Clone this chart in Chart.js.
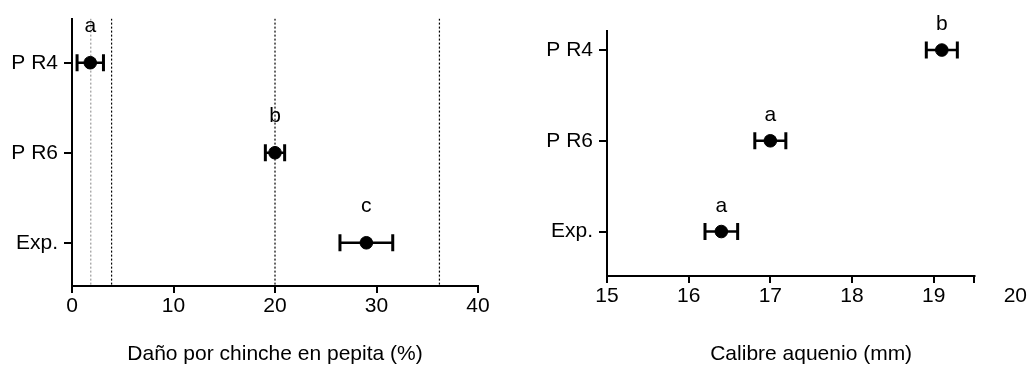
<!DOCTYPE html>
<html>
<head>
<meta charset="utf-8">
<script src="https://cdn.jsdelivr.net/npm/chart.js@4.4.0/dist/chart.umd.min.js"></script>
<style>
  body { margin: 0; background: #fff; }
  #wrap { position: relative; width: 1028px; height: 367px; }
  canvas { position: absolute; top: 0; }
</style>
</head>
<body>
<div id="wrap">
  <canvas id="dano" width="514" height="367" style="left:0"></canvas>
  <canvas id="calibre" width="514" height="367" style="left:514px"></canvas>
</div>
<script>
// categories, top to bottom
const categories = ['P R4', 'P R6', 'Exp.'];

// left panel - damage by bug on seed (%)
const danoMean = [1.8, 20.0, 29.0];
const danoErr = [1.3, 0.95, 2.6];
const danoLetters = ['a', 'b', 'c'];
const danoRefBlack = [3.9, 20.0, 36.2];
const danoRefGray = [1.85];
const danoTicks = [0, 10, 20, 30, 40];

// right panel - achene size (mm)
const calMean = [19.1, 17.0, 16.4];
const calErr = [0.19, 0.19, 0.2];
const calLetters = ['b', 'a', 'a'];
const calTicks = [15, 16, 17, 18, 19, 19.5, 20];

Chart.defaults.font.family = '"Liberation Sans", Arial, sans-serif';
Chart.defaults.font.size = 21;
Chart.defaults.color = '#000';

function meanSet(mean) {
  return {
    data: mean.map((m, i) => ({ x: m, y: i })),
    pointRadius: 6.3, pointHoverRadius: 6.3,
    pointBackgroundColor: '#000', pointBorderColor: '#000',
    order: 1
  };
}

// one small line per row, caps drawn as rotated 'line' points
function errorSets(mean, err) {
  return mean.map((m, i) => ({
    data: [{ x: m - err[i], y: i }, { x: m + err[i], y: i }],
    showLine: true, borderColor: '#000', borderWidth: 2.5,
    pointStyle: 'line', pointRotation: 90, pointRadius: 8.5, pointHoverRadius: 8.5,
    pointBorderWidth: 3, pointBorderColor: '#000',
    order: 2
  }));
}

function refSets(vals, color, yMin, yMax) {
  return vals.map(v => ({
    data: [{ x: v, y: yMin }, { x: v, y: yMax }],
    showLine: true, borderColor: color, borderWidth: 1.2, borderDash: [2, 2],
    pointRadius: 0, pointHoverRadius: 0,
    order: 3
  }));
}

function lettersPlugin(letters, mean, lift) {
  return {
    id: 'letters',
    afterDatasetsDraw(chart) {
      const { ctx, scales: { x, y } } = chart;
      ctx.save();
      ctx.font = '21px "Liberation Sans", Arial, sans-serif';
      ctx.fillStyle = '#000';
      ctx.textAlign = 'center';
      ctx.textBaseline = 'alphabetic';
      letters.forEach((l, i) => {
        ctx.fillText(l, x.getPixelForValue(mean[i]), y.getPixelForValue(i) - lift);
      });
      ctx.restore();
    }
  };
}

function makeOptions(c) {
  return {
    responsive: false,
    animation: false,
    events: [],
    layout: { padding: { top: c.top, right: c.right, left: 0, bottom: 0 } },
    plugins: { legend: { display: false }, tooltip: { enabled: false } },
    scales: {
      x: {
        type: 'linear', min: c.xMin, max: c.xMax,
        afterBuildTicks: s => { s.ticks = c.xTicks.map(v => ({ value: v })); },
        afterFit: s => { s.height = c.xHeight; },
        ticks: {
          padding: 1, autoSkip: false, maxRotation: 0, color: '#000',
          callback: v => (v === 19.5 ? '' : v)
        },
        grid: {
          drawOnChartArea: false, drawTicks: true, tickLength: 7, lineWidth: 2,
          color: '#000',
          tickColor: ctx => (ctx.tick && ctx.tick.value === 20 && c.hide20 ? 'rgba(0,0,0,0)' : '#000')
        },
        border: { display: !c.hide20, color: '#000', width: 2 },
        title: { display: true, text: c.title, color: '#000', font: { size: 21 }, padding: 0 }
      },
      y: {
        type: 'linear', reverse: true, min: c.yMin, max: c.yMax,
        afterBuildTicks: s => { s.ticks = categories.map((_, i) => ({ value: i })); },
        afterFit: s => { s.width = c.yWidth; },
        ticks: { padding: 6, color: '#000', callback: v => categories[v] },
        grid: { drawOnChartArea: false, drawTicks: true, tickLength: 8, lineWidth: 2, color: '#000' },
        border: { display: true, color: '#000', width: 2 }
      }
    }
  };
}

// left chart
const danoY = [-0.49, 2.48];
new Chart(document.getElementById('dano'), {
  type: 'scatter',
  data: {
    datasets: [
      meanSet(danoMean),
      ...errorSets(danoMean, danoErr),
      ...refSets(danoRefBlack, '#000', danoY[0], danoY[1]),
      ...refSets(danoRefGray, '#9a9a9a', danoY[0], danoY[1])
    ]
  },
  options: makeOptions({
    top: 15, right: 36, xHeight: 81, yWidth: 72,
    xMin: 0, xMax: 40, xTicks: danoTicks, yMin: danoY[0], yMax: danoY[1],
    title: 'Daño por chinche en pepita (%)', hide20: false
  }),
  plugins: [lettersPlugin(danoLetters, danoMean, 31)]
});

// right chart; axis line stops at 19.5 while the "20" label stays
const calY = [-0.21, 2.49];
const axisLine = {
  id: 'axisLine',
  afterDraw(chart) {
    const { ctx, chartArea, scales: { x } } = chart;
    ctx.save();
    ctx.strokeStyle = '#000';
    ctx.lineWidth = 2;
    ctx.beginPath();
    ctx.moveTo(x.getPixelForValue(15) - 1, chartArea.bottom);
    ctx.lineTo(x.getPixelForValue(19.5) + 1, chartArea.bottom);
    ctx.stroke();
    ctx.restore();
  }
};
new Chart(document.getElementById('calibre'), {
  type: 'scatter',
  data: {
    datasets: [
      meanSet(calMean),
      ...errorSets(calMean, calErr)
    ]
  },
  options: makeOptions({
    top: 31, right: 11, xHeight: 91, yWidth: 93,
    xMin: 15, xMax: 20, xTicks: calTicks, yMin: calY[0], yMax: calY[1],
    title: 'Calibre aquenio (mm)', hide20: true
  }),
  plugins: [lettersPlugin(calLetters, calMean, 20), axisLine]
});
</script>
</body>
</html>
